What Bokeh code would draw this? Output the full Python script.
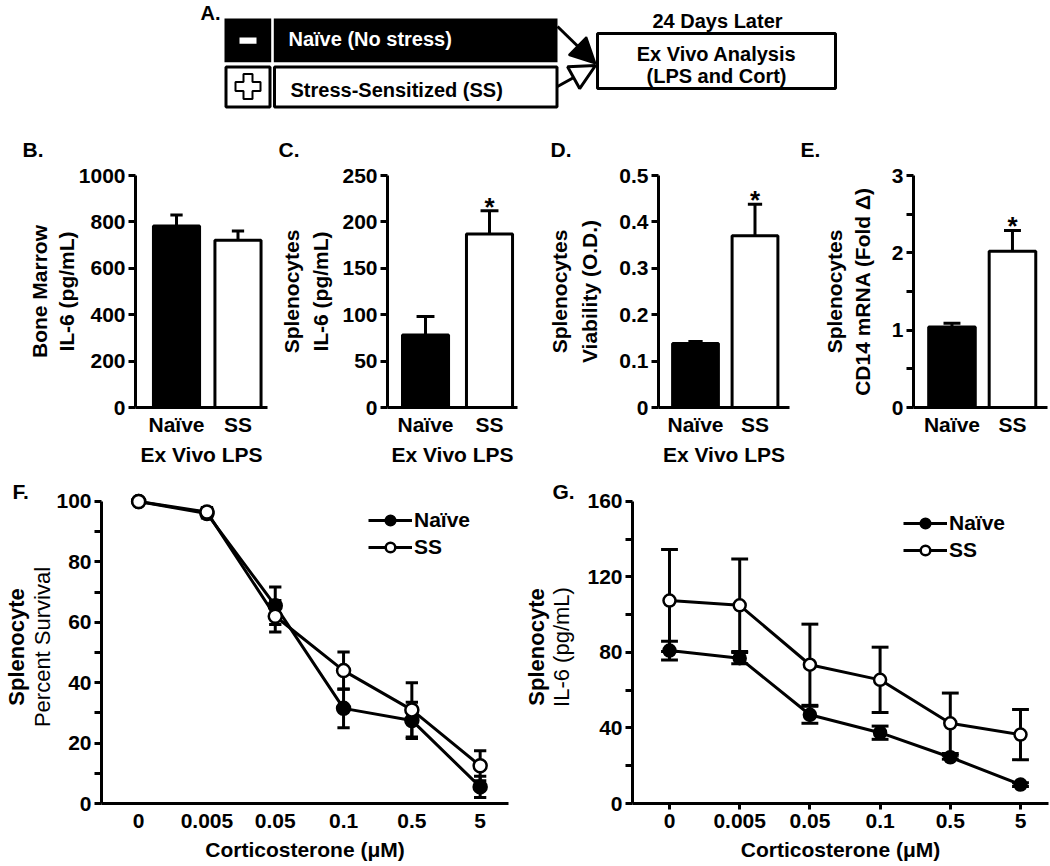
import math
from bokeh.plotting import figure
from bokeh.models import (Range1d, FixedTicker, Label, Legend, LegendItem, Arrow,
                          NormalHead, ColumnDataSource, LinearAxis)
from bokeh.layouts import column, row
from bokeh.core.properties import value
from bokeh.embed import file_html
from bokeh.resources import INLINE

FONT = "Liberation Sans"

# ---------------- data ----------------
groups = ["Naïve", "SS"]

bm_il6 = [782, 721]
bm_il6_err = [48, 40]
bm_il6_sig = [False, False]

spl_il6 = [78, 187]
spl_il6_err = [20, 25]
spl_il6_sig = [False, True]

spl_viab = [0.138, 0.370]
spl_viab_err = [0.004, 0.068]
spl_viab_sig = [False, True]

cd14 = [1.04, 2.02]
cd14_err = [0.05, 0.27]
cd14_sig = [False, True]

cort_labels = ["0", "0.005", "0.05", "0.1", "0.5", "5"]
surv_naive = [100, 96, 65.5, 31.5, 27.5, 5.5]
surv_naive_err = [0.5, 1.5, 6.2, 6.4, 6.0, 3.5]
surv_ss = [100, 96.5, 62, 44, 31, 12.5]
surv_ss_err = [0.5, 1.5, 5.2, 6.2, 9.0, 5.0]

il6_naive = [81, 77, 47, 37.5, 24.5, 10]
il6_naive_err = [5, 3, 4.5, 3.5, 1, 1]
il6_ss = [107.5, 105, 73.5, 65.5, 42.5, 36.5]
il6_ss_err = [27, 24.5, 21.5, 17.3, 16, 13.3]

# ---------------- styles ----------------
group_fill = ["black", "white"]
ROW1_H = 118
ROW2_H = 350
ROW3_H = 398
TICK_FS = "21px"


def make_panel(w, h, bl, br, bt, bb, xr, yr):
    p = figure(width=w, height=h, x_range=xr, y_range=yr, output_backend="svg",
               toolbar_location=None, min_border_left=bl, min_border_right=br,
               min_border_top=bt, min_border_bottom=bb)
    p.grid.visible = False
    p.outline_line_color = None
    return p


def style_axis(ax, size=TICK_FS):
    ax.axis_line_width = 3
    ax.axis_line_color = "black"
    ax.major_tick_line_width = 3
    ax.major_tick_line_color = "black"
    ax.major_tick_in = 0
    ax.major_tick_out = 7
    ax.minor_tick_line_color = None
    ax.major_label_text_font = FONT
    ax.major_label_text_font_style = "bold"
    ax.major_label_text_font_size = size
    ax.major_label_text_color = "black"
    ax.major_label_standoff = 3
    ax.axis_label_text_font = FONT
    ax.axis_label_text_font_style = "bold"
    ax.axis_label_text_font_size = "21px"
    ax.axis_label_text_color = "black"
    ax.axis_label_standoff = 4


def y_titles(p, inner, outer, s1, s2, size="21px", inner_style="bold", outer_style="bold"):
    ax = p.yaxis[0]
    ax.axis_label = inner
    ax.axis_label_standoff = s1
    ax.axis_label_text_font_size = size
    ax.axis_label_text_font_style = inner_style
    ax2 = LinearAxis(axis_label=outer, ticker=FixedTicker(ticks=[], minor_ticks=[]),
                     axis_line_color=None, major_tick_line_color=None,
                     minor_tick_line_color=None, major_label_text_font_size="0px",
                     major_label_standoff=0, major_tick_out=0, major_tick_in=0,
                     axis_label_standoff=s2, axis_label_text_font=FONT,
                     axis_label_text_font_style=outer_style, axis_label_text_font_size=size,
                     axis_label_text_color="black")
    p.add_layout(ax2, "left")


def letter(p, text, offset, standoff):
    p.title.text = text
    p.title.align = "left"
    p.title.offset = offset
    p.title.standoff = standoff
    p.title.text_font = FONT
    p.title.text_font_style = "bold"
    p.title.text_font_size = "21px"
    p.title.text_color = "black"


def bar_panel(w, bl, br, bt, bb, xlim, ymax, yticks, vals, errs, sig, bar_w, cap,
              ylabels, let, xlabel, hide=(), zero_label=None):
    p = make_panel(w, ROW2_H, bl, br, bt, bb, Range1d(*xlim), Range1d(0, ymax))
    xs = list(range(len(groups)))
    tops = [v + e for v, e in zip(vals, errs)]
    src = ColumnDataSource(dict(x=xs, top=vals, etop=tops, fill=group_fill,
                                cl=[x - cap for x in xs], cr=[x + cap for x in xs]))
    p.vbar(x="x", top="top", bottom=0, width=bar_w, source=src, fill_color="fill",
           line_color="black", line_width=3)
    p.segment(x0="x", y0="top", x1="x", y1="etop", source=src, line_width=3, line_color="black")
    p.segment(x0="cl", y0="etop", x1="cr", y1="etop", source=src, line_width=3, line_color="black")
    sx = [x for x, s in zip(xs, sig) if s]
    sy = [t for t, s in zip(tops, sig) if s]
    if sx:
        p.text(x=sx, y=sy, text=["*"] * len(sx), text_font=value(FONT), text_font_style="bold",
               text_font_size="26px", text_align="center", text_baseline="alphabetic",
               y_offset=-4, text_color="black")
    style_axis(p.xaxis[0])
    style_axis(p.yaxis[0])
    p.xaxis.ticker = FixedTicker(ticks=xs, minor_ticks=[])
    p.xaxis.major_label_overrides = {i: g for i, g in enumerate(groups)}
    p.xaxis.major_tick_out = 0
    p.xaxis.major_label_standoff = 5
    if xlabel:
        p.xaxis.axis_label = xlabel
    p.yaxis.ticker = FixedTicker(ticks=yticks, minor_ticks=[])
    ov = {t: "" for t in hide}
    if zero_label is not None:
        ov[0] = zero_label
    if ov:
        p.yaxis.major_label_overrides = ov
    y_titles(p, *ylabels)
    letter(p, let[0], let[1], 30)
    return p


def line_panel(w, bl, br, xlim, ymax, ybound, yticks, ylab_every, cap, msize,
               naive, naive_err, ss, ss_err, ylabels, let, legend_loc, tick_out):
    p = make_panel(w, ROW3_H, bl, br, 22, 63, Range1d(*xlim), Range1d(0, ymax))
    xs = list(range(len(cort_labels)))
    lines, marks = [], []
    for vals in (naive, ss):
        lines.append(p.line(x=xs, y=vals, line_width=3, line_color="black"))
    for vals, errs in ((naive, naive_err), (ss, ss_err)):
        lo = [v - e for v, e in zip(vals, errs)]
        hi = [v + e for v, e in zip(vals, errs)]
        p.segment(x0=xs, y0=lo, x1=xs, y1=hi, line_width=3, line_color="black")
        cl = [x - cap for x in xs]
        cr = [x + cap for x in xs]
        p.segment(x0=cl, y0=hi, x1=cr, y1=hi, line_width=3, line_color="black")
        p.segment(x0=cl, y0=lo, x1=cr, y1=lo, line_width=3, line_color="black")
    for vals, fill in ((naive, "black"), (ss, "white")):
        marks.append(p.scatter(x=xs, y=vals, marker="circle", size=msize, fill_color=fill,
                               line_color="black", line_width=2.5))
    style_axis(p.xaxis[0])
    style_axis(p.yaxis[0])
    p.xaxis.ticker = FixedTicker(ticks=xs, minor_ticks=[])
    p.xaxis.major_label_overrides = {i: c for i, c in enumerate(cort_labels)}
    p.xaxis.major_tick_out = tick_out
    p.xaxis.major_label_standoff = 10 - tick_out
    p.xaxis.axis_label = "Corticosterone (μM)"
    p.xaxis.axis_label_standoff = 7
    p.yaxis.ticker = FixedTicker(ticks=yticks, minor_ticks=[])
    p.yaxis.major_label_overrides = {t: "" for t in yticks if t % ylab_every != 0}
    p.yaxis.bounds = (0, ybound)
    legend = Legend(items=[LegendItem(label=groups[0], renderers=[lines[0], marks[0]]),
                           LegendItem(label=groups[1], renderers=[lines[1], marks[1]])],
                    location=legend_loc, glyph_width=44, glyph_height=24, label_standoff=2,
                    spacing=3, padding=0, margin=0, border_line_color=None,
                    background_fill_alpha=0, label_text_font=FONT,
                    label_text_font_style="bold", label_text_font_size="21px",
                    label_text_color="black")
    p.add_layout(legend)
    y_titles(p, *ylabels)
    letter(p, let[0], let[1], -24)
    return p


# ---------------- panel A (schematic) ----------------
pa = figure(width=1050, height=ROW1_H, x_range=Range1d(0, 1050), y_range=Range1d(ROW1_H, 0),
            output_backend="svg", toolbar_location=None, x_axis_location=None,
            y_axis_location=None, min_border=0)
pa.grid.visible = False
pa.outline_line_color = None
pa.quad(left=[224, 273.3], right=[270.7, 557], top=[18, 18], bottom=[61.7, 61.7],
        fill_color="black", line_color=None)
pa.quad(left=[239], right=[256], top=[37], bottom=[43.3], fill_color="white", line_color=None)
pa.quad(left=[225.5, 274], right=[269.5, 556.5], top=[66.5, 66.5], bottom=[106.5, 106.5],
        fill_color="white", line_color="black", line_width=3)
pcx, pcy, arm, hw = 247.5, 86, 12.5, 4.5
pa.patch(x=[pcx - hw, pcx + hw, pcx + hw, pcx + arm, pcx + arm, pcx + hw, pcx + hw, pcx - hw,
            pcx - hw, pcx - arm, pcx - arm, pcx - hw],
         y=[pcy - arm, pcy - arm, pcy - hw, pcy - hw, pcy + hw, pcy + hw, pcy + arm, pcy + arm,
            pcy + hw, pcy + hw, pcy - hw, pcy - hw],
         fill_color="white", line_color="black", line_width=2)
pa.quad(left=[597], right=[835], top=[33], bottom=[88], fill_color="white",
        line_color="black", line_width=3)
pa.add_layout(Arrow(end=NormalHead(size=25, fill_color="black", line_color="black", line_width=2),
                    x_start=557, y_start=26, x_end=595, y_end=63, line_width=3, line_color="black"))
pa.add_layout(Arrow(end=NormalHead(size=25, fill_color="white", line_color="black", line_width=3),
                    x_start=557, y_start=86, x_end=595, y_end=65, line_width=3, line_color="black"))
txt_kw = dict(text_font=value(FONT), text_font_style="bold", text_font_size="20px",
              text_baseline="middle")
pa.text(x=[288], y=[38.5], text=["Naïve (No stress)"], text_align="left", text_color="white", **txt_kw)
pa.text(x=[290], y=[89], text=["Stress-Sensitized (SS)"], text_align="left", text_color="black", **txt_kw)
pa.text(x=[716, 716], y=[53, 75], text=["Ex Vivo Analysis", "(LPS and Cort)"], text_align="center",
        text_color="black", **txt_kw)
pa.add_layout(Label(x=717, y=20, text="24 Days Later", text_font=FONT, text_font_style="bold",
                    text_font_size="20px", text_align="center", text_baseline="middle",
                    text_color="black"))
pa.add_layout(Label(x=200, y=12, text="A.", text_font=FONT, text_font_style="bold",
                    text_font_size="20px", text_align="left", text_baseline="middle",
                    text_color="black"))

# ---------------- panels B-E ----------------
pb = bar_panel(272, 135, 5, 55, 61, (-0.667, 1.480), 1000, [0, 200, 400, 600, 800, 1000],
               bm_il6, bm_il6_err, bm_il6_sig, 0.75, 0.1,
               ("IL-6 (pg/mL)", "Bone Marrow", -2, 1), ("B.", -113), "Ex Vivo LPS")
pc = bar_panel(263, 115, 18, 55, 60, (-0.594, 1.4375), 250, [0, 50, 100, 150, 200, 250],
               spl_il6, spl_il6_err, spl_il6_sig, 0.72, 0.14,
               ("IL-6 (pg/mL)", "Splenocytes", 7, 4), ("C.", -109), "Ex Vivo LPS")
pd = bar_panel(260, 123, 6, 55, 59, (-0.622, 1.580), 0.5, [0, 0.1, 0.2, 0.3, 0.4, 0.5],
               spl_viab, spl_viab_err, spl_viab_sig, 0.77, 0.12,
               ("Viability (O.D.)", "Splenocytes", 15, 5), ("D.", -108),
               "Ex Vivo LPS", zero_label="0")
pe = bar_panel(255, 118, 3, 57, 49, (-0.636, 1.579), 3, [0, 0.5, 1, 1.5, 2, 2.5, 3],
               cd14, cd14_err, cd14_sig, 0.77, 0.14,
               ("CD14 mRNA (Fold Δ)", "Splenocytes", 15, 2), ("E.", -113),
               None, hide=(0.5, 1.5, 2.5))

# ---------------- panels F-G ----------------
pf = line_panel(520, 92, 12, (-0.544, 5.415), 103.64, 100, list(range(0, 101, 10)), 20, 0.09, 13,
                surv_naive, surv_naive_err, surv_ss, surv_ss_err,
                ("Percent Survival", "Splenocyte", -2, -1, "22px", "normal", "bold"),
                ("F.", -89), (267, 244), 0)
pg = line_panel(530, 112, 2, (-0.527, 5.399), 165.8, 160, list(range(0, 161, 20)), 40, 0.12, 12,
                il6_naive, il6_naive_err, il6_ss, il6_ss_err,
                ("IL-6 (pg/mL)", "Splenocyte", 10, -2, "22px", "normal", "bold"),
                ("G.", -80), (271, 241), 6)

layout = column(pa, row(pb, pc, pd, pe), row(pf, pg))
open("out.html", "w").write(file_html(layout, INLINE))
